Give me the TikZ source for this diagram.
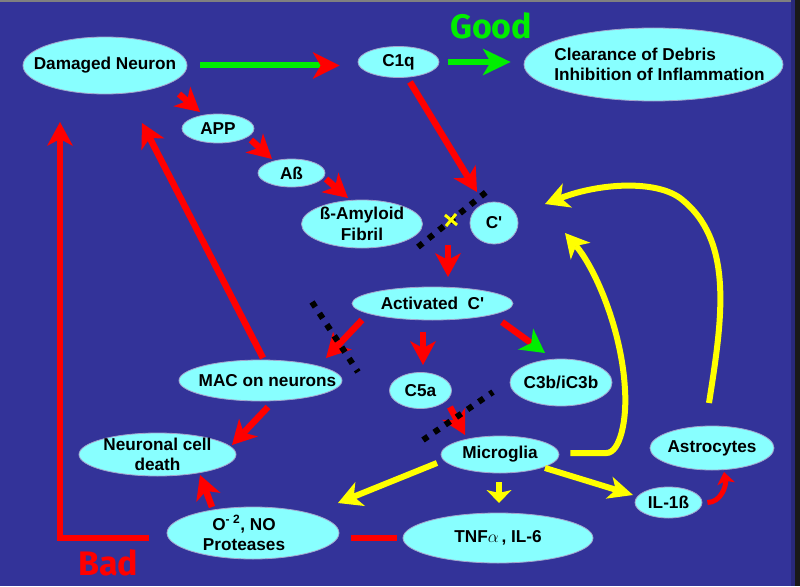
\documentclass[tikz,border=0pt]{standalone}
\usepackage{fontspec}
\setmainfont{Liberation Sans}
\newfontfamily\slogan{Fira Sans}
\usetikzlibrary{shapes.geometric,arrows.meta}
\definecolor{bgblue}{RGB}{51,51,153}
\definecolor{cellcyan}{RGB}{136,255,255}
\definecolor{rimgray}{RGB}{165,165,205}
\definecolor{pathred}{RGB}{255,0,0}
\definecolor{goodgreen}{RGB}{0,238,0}
\definecolor{sigyellow}{RGB}{255,255,0}

\begin{document}
\begin{tikzpicture}[x=1pt,y=-1pt,font=\bfseries\fontsize{17.2}{20.5}\selectfont,
  cell/.style={ellipse,fill=cellcyan,draw=rimgray,line width=0.8pt,inner sep=0pt},
  redarr/.style={draw=pathred,line width=6.5pt,-{Stealth[length=24pt,width=26pt,inset=7pt,line width=0pt]}},
  yelarr/.style={draw=sigyellow,line width=6pt,-{Stealth[length=24pt,width=26pt,inset=7pt,line width=0pt]}},
  blocker/.style={line width=6pt,dash pattern=on 6pt off 7.5pt}]
\useasboundingbox (0,0) rectangle (800,586);
\fill[bgblue] (0,0) rectangle (800,586);
\fill[gray] (0,0) rectangle (800,2);
\fill[bgblue!80!black] (791,0) rectangle (795,586);
\fill[black!90] (795,0) rectangle (800,586);

% cells
\node[cell,minimum width=164pt,minimum height=57pt,label={center:Damaged Neuron}] (dn) at (105,65.5) {};
\node[cell,minimum width=81pt,minimum height=31pt,label={center:C1q}] (c1q) at (398.5,62) {};
\node[cell,minimum width=259pt,minimum height=73pt,label={[align=left,xshift=6pt]center:{Clearance of Debris\\Inhibition of Inflammation}}] (clear) at (653.5,64.5) {};
\node[cell,minimum width=72pt,minimum height=29pt,label={center:APP}] (app) at (218,128.5) {};
\node[cell,minimum width=67pt,minimum height=28pt,label={center:Aß}] (ab) at (291.5,173) {};
\node[cell,minimum width=121pt,minimum height=48pt,label={[align=center]center:{ß-Amyloid\\Fibril}}] (fib) at (362,224) {};
\node[cell,minimum width=48pt,minimum height=42pt,label={center:C\textquotesingle}] (cp) at (494,223) {};
\node[cell,minimum width=161pt,minimum height=33pt,label={center:Activated\ \ C\textquotesingle}] (act) at (432.5,303.5) {};
\node[cell,minimum width=163pt,minimum height=41pt,label={[xshift=7pt]center:MAC on neurons}] (mac) at (260.5,380.5) {};
\node[cell,minimum width=157pt,minimum height=43pt,label={[align=center]center:{Neuronal cell\\death}}] (ncd) at (157.5,454.5) {};
\node[cell,minimum width=172pt,minimum height=52pt,label={[align=center,xshift=-9pt]center:{O\textsuperscript{-}\,\textsuperscript{2}, NO\\Proteases}}] (ox) at (253,533) {};
\node[cell,minimum width=62pt,minimum height=36pt,label={center:C5a}] (c5a) at (420.5,390.5) {};
\node[cell,minimum width=102pt,minimum height=47pt,label={center:C3b/iC3b}] (c3b) at (561,382.5) {};
\node[cell,minimum width=118pt,minimum height=37pt,label={center:Microglia}] (mic) at (500,454.5) {};
\node[cell,minimum width=190pt,minimum height=50pt,label={center:{TNF$\alpha$\,, IL-6}}] (tnf) at (498,538) {};
\node[cell,minimum width=67pt,minimum height=31pt,label={center:IL-1ß}] (il1) at (668.5,502.5) {};
\node[cell,minimum width=124pt,minimum height=44pt,label={center:Astrocytes}] (ast) at (712,448) {};
\coordinate (junc) at (448,245);

% good path
\draw[draw=goodgreen,line width=6pt,shorten <=13pt,shorten >=18pt,-{Stealth[length=27pt,width=27pt,inset=8pt,line width=0pt,color=pathred]}] (dn.east) -- (dn.east -| c1q.west);
\draw[draw=goodgreen,line width=6pt,shorten <=9pt,shorten >=13pt,-{Stealth[length=28pt,width=27pt,inset=8pt,line width=0pt]}] (c1q.east) -- (c1q.east -| clear.west);

% red cascade
\draw[redarr] ([shift={(74,28.5)}]dn.center) -- ([shift={(-18,-16.5)}]app.center);
\draw[redarr] ([shift={(33,11.5)}]app.center) -- ([shift={(-19.5,-14)}]ab.center);
\draw[redarr] ([shift={(34.5,6)}]ab.center) -- ([shift={(-14,-26)}]fib.center);
\draw[redarr] ([shift={(11.5,20)}]c1q.center) -- ([shift={(-17,-31)}]cp.center);
\draw[redarr] (junc) -- ([shift={(15.5,-26.5)}]act.center);
\draw[redarr] ([shift={(-70.5,16.5)}]act.center) -- ([shift={(65.5,-22.5)}]mac.center);
\draw[redarr] ([shift={(-9.5,28.5)}]act.center) -- ([shift={(2.5,-25.5)}]c5a.center);
\draw[draw=pathred,line width=6.5pt,-{Stealth[length=24pt,width=26pt,inset=7pt,line width=0pt,color=goodgreen]}] ([shift={(69.5,18.5)}]act.center) -- ([shift={(-16,-29.5)}]c3b.center);
\draw[redarr] ([shift={(29.5,16.5)}]c5a.center) -- ([shift={(-35,-19.5)}]mic.center);
\draw[redarr] ([shift={(7.5,26.5)}]mac.center) -- ([shift={(74.5,-9.5)}]ncd.center);
\draw[redarr] ([shift={(-41,-26)}]ox.center) -- ([shift={(42.5,20.5)}]ncd.center);
\draw[redarr] ([shift={(2.5,-22.5)}]mac.center) -- ([shift={(37,57.5)}]dn.center);
\draw[redarr] ([shift={(-104,5)}]ox.center) -| ([shift={(-45,56.5)}]dn.center);
\draw[draw=pathred,line width=6pt,shorten <=12pt,shorten >=6pt] (ox.east |- tnf.west) -- (tnf.west);
\draw[draw=pathred,line width=5pt,-{Stealth[length=12pt,width=18pt,inset=3pt,line width=0pt]}] ([xshift=5pt]il1.east) to[out=0,in=-80] ([shift={(12,24)}]ast.center);

% microglia outputs
\draw[yelarr] ([shift={(-63,8.5)}]mic.center) -- ([shift={(85,-30)}]ox.center);
\draw[draw=sigyellow,line width=6pt,-{Stealth[length=13pt,width=25pt,inset=3pt,line width=0pt]}] ([shift={(-1,27.5)}]mic.center) -- ([shift={(1,-35)}]tnf.center);
\draw[draw=sigyellow,line width=6pt,-{Stealth[length=25pt,width=23pt,inset=7pt,line width=0pt]}] ([shift={(45,13.5)}]mic.center) -- ([shift={(-35.5,-7.5)}]il1.center);
\draw[yelarr] ([shift={(11,-1.5)}]mic.east) -- ++(36,0) .. controls (620,453) and (627,420) .. (625,390) .. controls (622,330) and (595,268) .. ([shift={(71,10)}]cp.center);
\draw[yelarr] ([shift={(-3,-45)}]ast.center) .. controls (722,320) and (735,240) .. (680,198) .. controls (655,180) and (600,183) .. ([shift={(51,-19)}]cp.center);

% blocks
\draw[blocker] (418,247) -- (490,189);
\draw[blocker] (312,302) -- (358,372);
\draw[blocker] (423,440) -- (493,392);
\draw[draw=sigyellow,line width=3pt] (445,215) -- (457,225) (446,226) -- (456,214);

\node[text=goodgreen,font=\slogan\bfseries\fontsize{34}{40}\selectfont,anchor=north west,inner sep=0pt] (good) at (450,12) {Good};
\node[text=pathred,font=\slogan\bfseries\fontsize{34}{40}\selectfont,anchor=north west,inner sep=0pt] (bad) at (78,549) {Bad};
\end{tikzpicture}
\end{document}
